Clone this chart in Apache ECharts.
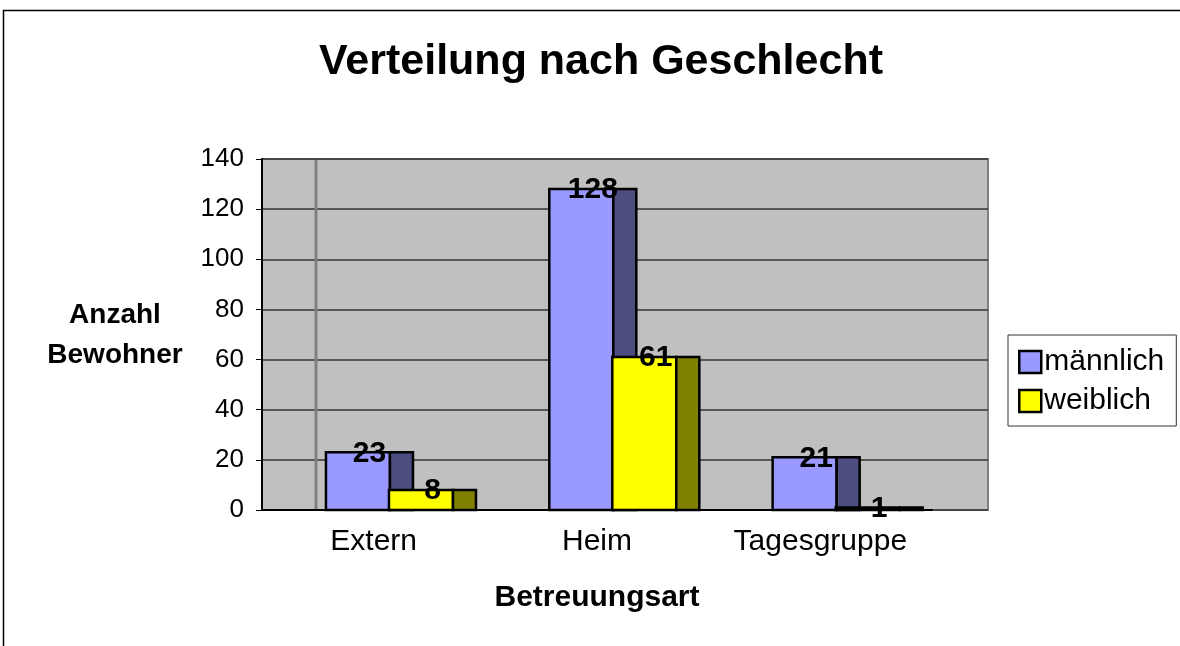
<!DOCTYPE html>
<html>
<head>
<meta charset="utf-8">
<script src="https://cdn.jsdelivr.net/npm/echarts@6/dist/echarts.min.js"></script>
<style>html,body{margin:0;padding:0;background:#fff}#c{width:1180px;height:646px}</style>
</head>
<body>
<div id="c"></div>
<script>
const categories = ['Extern', 'Heim', 'Tagesgruppe'];
const maennlich = [23, 128, 21];
const weiblich = [8, 61, 1];
const seriesNames = ['männlich', 'weiblich'];
const yTicks = [0, 20, 40, 60, 80, 100, 120, 140];

const FONT = '"Liberation Sans", Arial, sans-serif';
const GL = 262, GT = 159, GB = 646 - 510;

function makeRender(offset, frontColor, sideColor) {
  return function (params, api) {
    const idx = api.value(0), val = api.value(1);
    const base = api.coord([idx, 0]);
    const top = api.coord([idx, val]);
    const band = api.size([1, 0])[0];
    const fw = 0.2866 * band, sw = 0.103 * band;
    const x0 = base[0] + offset * band;
    const h = Math.max(base[1] - top[1], 0.5);
    return {
      type: 'group',
      children: [
        { type: 'rect', shape: { x: x0, y: top[1], width: fw, height: h },
          style: { fill: frontColor, stroke: '#000', lineWidth: 2.5 } },
        { type: 'rect', shape: { x: x0 + fw, y: top[1], width: sw, height: h },
          style: { fill: sideColor, stroke: '#000', lineWidth: 2.5 } },
        { type: 'text', x: x0 + (fw + sw) / 2, y: top[1] + 1, z2: 10,
          style: { text: String(val), font: 'bold 30px ' + FONT, align: 'center',
                   verticalAlign: 'middle', fill: '#000' } }
      ]
    };
  };
}

const chart = echarts.init(document.getElementById('c'), null, { renderer: 'canvas' });
chart.setOption({
  backgroundColor: '#fff',
  animation: false,
  title: {
    text: 'Verteilung nach Geschlecht',
    left: 596, top: 36, textAlign: 'center',
    textStyle: { fontFamily: FONT, fontWeight: 'bold', fontSize: 43, color: '#000' }
  },
  legend: {
    orient: 'vertical', left: 1008, top: 335,
    padding: [12, 12, 10, 10],
    itemGap: 9, itemWidth: 22, itemHeight: 22,
    borderColor: '#333', borderWidth: 1, backgroundColor: '#fff',
    icon: 'rect',
    textStyle: { fontFamily: FONT, fontSize: 30, color: '#000', padding: [0, 0, 0, -2] },
    data: [
      { name: seriesNames[0], itemStyle: { color: '#9999FF', borderColor: '#000', borderWidth: 2.5 } },
      { name: seriesNames[1], itemStyle: { color: '#FFFF00', borderColor: '#000', borderWidth: 2.5 } }
    ]
  },
  grid: [
    { left: GL, top: GT, right: 1180 - 988, bottom: GB, show: true,
      backgroundColor: '#C0C0C0', borderColor: '#808080', borderWidth: 2 },
    { left: GL, top: GT, width: 670, bottom: GB }
  ],
  xAxis: [
    { gridIndex: 0, type: 'value', show: false, min: 0, max: 1 },
    { gridIndex: 1, type: 'category', data: categories,
      axisLine: { lineStyle: { color: '#000', width: 2 } },
      axisTick: { length: 6, lineStyle: { color: '#000', width: 1 } },
      axisLabel: { fontFamily: FONT, fontSize: 30, color: '#000', margin: 17, interval: 0 },
      name: 'Betreuungsart', nameLocation: 'middle', nameGap: 73,
      nameTextStyle: { fontFamily: FONT, fontWeight: 'bold', fontSize: 30, color: '#000' }
    }
  ],
  yAxis: [
    { gridIndex: 0, type: 'value', min: yTicks[0], max: yTicks[yTicks.length - 1], interval: 20,
      axisLine: { show: true, lineStyle: { color: '#000', width: 2 } },
      axisTick: { show: true, length: 6, lineStyle: { color: '#000', width: 1 } },
      axisLabel: { fontFamily: FONT, fontSize: 26, color: '#000', margin: 18 },
      splitLine: { show: true, lineStyle: { color: '#333', width: 1.5 } }
    },
    { gridIndex: 1, type: 'value', min: yTicks[0], max: yTicks[yTicks.length - 1], interval: 20, show: false }
  ],
  graphic: [
    { type: 'rect', shape: { x: 3.5, y: 10.5, width: 1300, height: 800 }, z: -10,
      style: { fill: 'none', stroke: '#000', lineWidth: 1.5 } },
    { type: 'line', shape: { x1: GL + 54, y1: GT + 1, x2: GL + 54, y2: 646 - GB - 1 }, z: 1,
      style: { stroke: '#808080', lineWidth: 3 } },
    { type: 'text', x: 115, y: 335, z: 5,
      style: { text: 'Anzahl\nBewohner', font: 'bold 28px ' + FONT, fill: '#000',
               align: 'center', verticalAlign: 'middle', lineHeight: 40 } }
  ],
  series: [
    { name: seriesNames[0], type: 'custom', xAxisIndex: 1, yAxisIndex: 1, z: 3,
      itemStyle: { color: '#9999FF' },
      renderItem: makeRender(-0.2136, '#9999FF', '#4D4D80'),
      data: categories.map((c, i) => [i, maennlich[i]]) },
    { name: seriesNames[1], type: 'custom', xAxisIndex: 1, yAxisIndex: 1, z: 4,
      itemStyle: { color: '#FFFF00' },
      renderItem: makeRender(0.0685, '#FFFF00', '#808000'),
      data: categories.map((c, i) => [i, weiblich[i]]) }
  ]
});
</script>
</body>
</html>
